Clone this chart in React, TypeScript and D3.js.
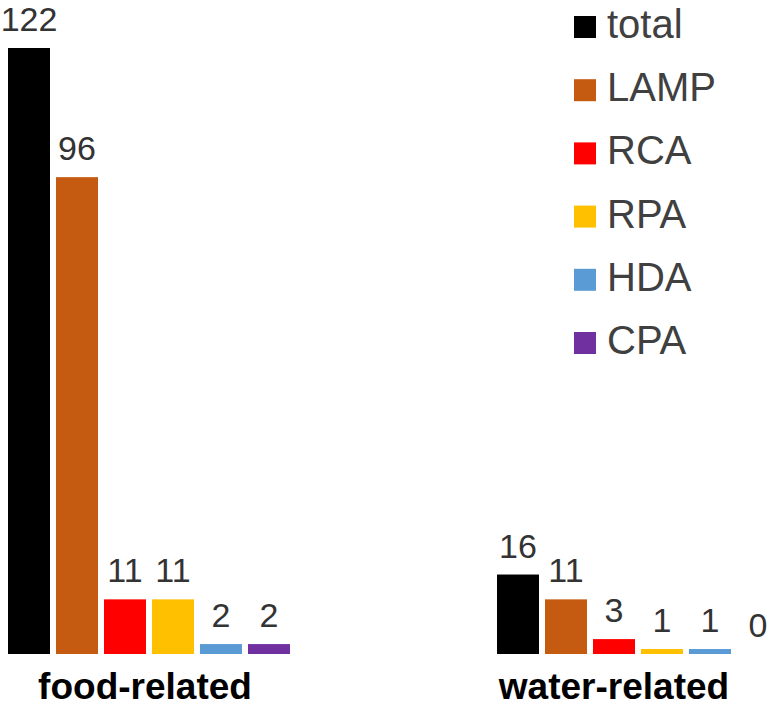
import React from "react";
import * as d3 from "d3";

const groups = ["food-related", "water-related"];
const series = ["total", "LAMP", "RCA", "RPA", "HDA", "CPA"];
const colors = ["#000000", "#C55A11", "#FF0000", "#FFC000", "#5B9BD5", "#7030A0"];
const foodValues = [122, 96, 11, 11, 2, 2];
const waterValues = [16, 11, 3, 1, 1, 0];

const width = 768;
const height = 707;
const font = "'Liberation Sans', Arial, sans-serif";

export default function App() {
  const values = [foodValues, waterValues];

  // outer scale places the two groups, inner scale the six bars
  const x0 = d3.scaleBand().domain(groups).range([8, 779]).paddingInner(207 / 489);
  const x1 = d3.scaleBand().domain(series).range([0, x0.bandwidth()]).paddingInner(0.125);
  const y = d3.scaleLinear().domain([0, 122]).range([654, 48]);
  const color = d3.scaleOrdinal<string, string>().domain(series).range(colors);

  // label centres are a little left of the group centre in the original
  const labelShift = [-4, -24];

  return (
    <svg
      width={width}
      height={height}
      style={{ position: "absolute", left: 0, top: 0, background: "#fff" }}
    >
      {groups.map((g, gi) => (
        <g key={g} transform={`translate(${x0(g)},0)`}>
          {series.map((s, si) => {
            const v = values[gi][si];
            const bx = x1(s)!;
            return (
              <g key={s}>
                <rect
                  x={bx}
                  y={y(v)}
                  width={x1.bandwidth()}
                  height={y(0) - y(v)}
                  fill={color(s)}
                />
                <text
                  x={bx + x1.bandwidth() / 2}
                  y={y(v) - 17}
                  textAnchor="middle"
                  fontFamily={font}
                  fontSize={34}
                  fill="#333"
                >
                  {v}
                </text>
              </g>
            );
          })}
          <text
            x={x0.bandwidth() / 2 + labelShift[gi]}
            y={699}
            textAnchor="middle"
            fontFamily={font}
            fontWeight="bold"
            fontSize={37}
            fill="#000"
          >
            {g}
          </text>
        </g>
      ))}
      <g transform="translate(574,16)">
        {series.map((s, i) => (
          <g key={s} transform={`translate(0,${i * 63.2})`}>
            <rect width={22} height={22} fill={color(s)} />
            <text x={33} y={22} fontFamily={font} fontSize={40} fill="#404040">
              {s}
            </text>
          </g>
        ))}
      </g>
    </svg>
  );
}
